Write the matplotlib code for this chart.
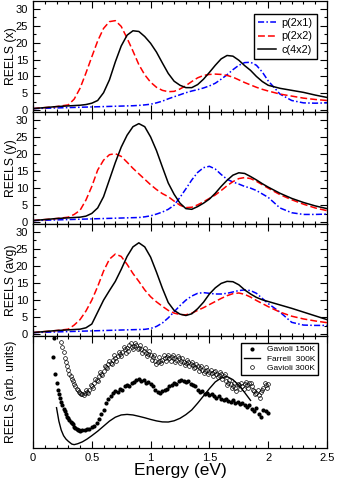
import numpy as np
import matplotlib
matplotlib.use("Agg")
import matplotlib.pyplot as plt
from matplotlib.ticker import MultipleLocator, NullLocator

plt.rcParams["font.family"] = ["Liberation Sans", "DejaVu Sans"]

# model spectra, shared energy grid (eV)
energy = [0.0, 0.1, 0.2, 0.3, 0.35, 0.4, 0.45, 0.5, 0.55, 0.6, 0.65, 0.7,
          0.75, 0.8, 0.85, 0.9, 0.95, 1.0, 1.05, 1.1, 1.15, 1.2, 1.25, 1.3,
          1.35, 1.4, 1.45, 1.5, 1.55, 1.6, 1.65, 1.7, 1.75, 1.8, 1.85, 1.9,
          1.95, 2.0, 2.1, 2.2, 2.3, 2.4, 2.5]

# REELS (x)
x_p2x1 = [0.5, 0.6, 0.7, 0.8, 0.85, 0.9, 0.95, 1.0, 1.05, 1.1, 1.15, 1.2,
          1.25, 1.3, 1.35, 1.45, 1.6, 1.8, 2.2, 2.7, 3.4, 4.0, 4.6, 5.2,
          5.7, 6.1, 6.6, 7.2, 8.0, 9.2, 10.5, 12.0, 13.3, 14.1, 14.2, 13.3,
          11.3, 8.7, 4.8, 2.9, 2.2, 2.1, 2.2]
x_p2x2 = [0.5, 0.8, 1.1, 1.6, 3.3, 6.5, 11.0, 15.8, 20.5, 24.2, 26.2, 26.5,
          24.8, 21.3, 17.5, 13.5, 10.5, 8.3, 6.8, 5.9, 5.5, 5.6, 6.3, 7.3,
          8.5, 9.6, 10.3, 10.6, 10.7, 10.6, 10.3, 9.8, 9.0, 8.2, 7.5, 6.8,
          6.2, 5.7, 4.8, 4.2, 3.6, 3.2, 2.9]
x_c4x2 = [0.5, 0.8, 1.1, 1.3, 1.4, 1.5, 1.7, 2.1, 2.9, 5.2, 9.0, 14.3,
          19.0, 22.2, 23.5, 23.3, 21.8, 19.8, 17.2, 14.0, 10.9, 8.6, 7.4, 6.7,
          6.7, 7.6, 9.2, 11.2, 13.3, 15.2, 16.2, 16.0, 14.8, 13.2, 11.8, 10.0,
          8.5, 7.4, 6.5, 5.9, 5.3, 4.5, 3.8]

# REELS (y)
y_p2x1 = [0.5, 0.6, 0.7, 0.8, 0.85, 0.9, 0.95, 1.0, 1.05, 1.1, 1.15, 1.2,
          1.25, 1.3, 1.35, 1.4, 1.6, 1.9, 2.4, 3.0, 3.8, 5.0, 7.3, 9.8,
          12.4, 14.6, 16.0, 16.4, 15.6, 14.0, 12.6, 11.8, 11.2, 10.5, 10.0, 9.3,
          8.3, 7.3, 4.2, 2.8, 2.3, 2.3, 2.4]
y_p2x2 = [0.5, 0.8, 1.1, 1.5, 2.3, 3.5, 6.5, 10.5, 15.3, 18.2, 19.8, 20.1,
          19.3, 17.6, 15.8, 14.2, 12.6, 11.0, 9.6, 8.4, 7.5, 6.2, 5.0, 4.3,
          4.4, 5.1, 6.0, 7.0, 8.0, 9.3, 10.7, 11.9, 12.8, 13.1, 12.8, 12.0,
          11.0, 10.0, 8.1, 6.6, 5.3, 4.2, 3.4]
y_c4x2 = [0.5, 0.8, 1.1, 1.3, 1.4, 1.5, 1.8, 2.6, 4.2, 7.5, 12.5, 17.5,
          22.0, 25.5, 28.0, 28.9, 28.0, 25.0, 21.0, 16.2, 11.5, 8.2, 5.6, 4.0,
          3.8, 4.6, 5.6, 6.8, 8.5, 10.5, 12.3, 13.8, 14.5, 14.3, 13.4, 12.4,
          11.3, 10.3, 8.5, 7.0, 5.8, 4.8, 4.0]

# REELS (avg)
a_p2x1 = [0.5, 0.6, 0.7, 0.8, 0.85, 0.9, 0.95, 1.0, 1.05, 1.1, 1.15, 1.2,
          1.25, 1.3, 1.35, 1.4, 1.45, 1.7, 2.3, 3.3, 4.8, 6.6, 8.4, 10.0,
          11.2, 12.0, 12.2, 12.0, 11.8, 11.8, 12.0, 12.4, 12.8, 13.0, 12.8, 12.0,
          10.5, 9.0, 6.5, 3.5, 2.7, 2.6, 2.6]
a_p2x2 = [0.5, 0.8, 1.1, 1.5, 2.7, 4.3, 6.8, 10.0, 14.0, 18.5, 22.0, 23.5,
          22.8, 20.5, 17.8, 15.5, 13.0, 11.0, 9.5, 8.2, 7.0, 6.2, 5.8, 5.7,
          6.2, 7.0, 7.8, 8.7, 9.6, 10.5, 11.3, 11.9, 12.1, 11.7, 10.9, 9.9,
          9.0, 8.1, 6.5, 5.3, 4.5, 3.9, 3.4]
a_c4x2 = [0.5, 0.8, 1.1, 1.3, 1.4, 1.5, 1.9, 3.0, 6.5, 10.0, 12.8, 15.5,
          19.0, 22.8, 25.6, 26.8, 25.6, 22.6, 18.2, 13.5, 9.3, 7.0, 5.9, 5.5,
          6.0, 7.5, 9.4, 11.8, 13.6, 14.9, 15.5, 15.4, 14.5, 13.0, 11.8, 10.8,
          10.1, 9.6, 8.6, 7.6, 6.5, 5.4, 4.3]

# experiment (arbitrary units, 0-100)
gav150_e = [0.17, 0.18, 0.19, 0.20, 0.21, 0.22, 0.23, 0.24, 0.25, 0.26, 0.27,
            0.28, 0.29, 0.30, 0.31, 0.32, 0.33, 0.34, 0.35, 0.36, 0.37, 0.38,
            0.39, 0.40, 0.42, 0.44, 0.46, 0.48, 0.50, 0.52, 0.54, 0.56, 0.58,
            0.60, 0.62, 0.64, 0.66, 0.68, 0.70, 0.72, 0.74, 0.76, 0.78, 0.80,
            0.82, 0.84, 0.86, 0.88, 0.90, 0.92, 0.94, 0.96, 0.98, 1.00, 1.02,
            1.04, 1.06, 1.08, 1.10, 1.12, 1.14, 1.16, 1.18, 1.20, 1.22, 1.24,
            1.26, 1.28, 1.30, 1.32, 1.34, 1.36, 1.38, 1.40, 1.42, 1.44, 1.46,
            1.48, 1.50, 1.52, 1.54, 1.56, 1.58, 1.60, 1.62, 1.64, 1.66, 1.68,
            1.70, 1.72, 1.74, 1.76, 1.78, 1.80, 1.82, 1.84, 1.86, 1.88, 1.90,
            1.92, 1.94, 1.96, 1.98, 2.00]
gav150_r = [81, 98, 66, 58, 52, 48, 45, 41, 38, 35, 33,
            30, 28, 27, 25, 23, 22, 21, 19, 18, 17, 16,
            16, 15, 16, 16, 17, 17, 19, 20, 22, 26, 30,
            34, 40, 44, 46, 49, 51, 50, 53, 52, 55, 56,
            55, 58, 59, 61, 62, 60, 61, 58, 59, 57, 55,
            52, 50, 49, 51, 52, 53, 55, 56, 58, 57, 60,
            61, 60, 59, 60, 57, 56, 55, 52, 50, 51, 48,
            49, 47, 48, 46, 45, 46, 44, 43, 44, 42, 41,
            43, 40, 41, 39, 40, 38, 37, 38, 35, 33, 36,
            30, 28, 34, 33, 31]

gav300_e = [0.24, 0.25, 0.26, 0.27, 0.28, 0.29, 0.30, 0.31, 0.32, 0.33, 0.34,
            0.35, 0.36, 0.37, 0.38, 0.39, 0.40, 0.41, 0.42, 0.43, 0.44, 0.46,
            0.48, 0.50, 0.52, 0.54, 0.56, 0.58, 0.60, 0.62, 0.64, 0.66, 0.68,
            0.70, 0.72, 0.74, 0.76, 0.78, 0.80, 0.82, 0.84, 0.86, 0.88, 0.90,
            0.92, 0.94, 0.96, 0.98, 1.00, 1.02, 1.04, 1.06, 1.08, 1.10, 1.12,
            1.14, 1.16, 1.18, 1.20, 1.22, 1.24, 1.26, 1.28, 1.30, 1.32, 1.34,
            1.36, 1.38, 1.40, 1.42, 1.44, 1.46, 1.48, 1.50, 1.52, 1.54, 1.56,
            1.58, 1.60, 1.62, 1.64, 1.66, 1.68, 1.70, 1.72, 1.74, 1.76, 1.78,
            1.80, 1.82, 1.84, 1.86, 1.88, 1.90, 1.92, 1.94, 1.96, 1.98, 2.00]
gav300_r = [95, 90, 86, 80, 77, 73, 70, 66, 64, 62, 60,
            57, 55, 53, 52, 50, 49, 48, 48, 47, 49, 50,
            52, 55, 58, 61, 64, 66, 69, 72, 75, 76, 79,
            80, 82, 84, 86, 88, 89, 92, 90, 91, 92, 89,
            88, 87, 85, 84, 83, 81, 78, 77, 78, 79, 80,
            81, 80, 81, 80, 79, 80, 78, 77, 76, 77, 75,
            74, 72, 73, 71, 70, 69, 70, 68, 67, 68, 66,
            65, 66, 64, 60, 58, 57, 55, 54, 57, 53, 55,
            57, 56, 58, 55, 51, 49, 47, 50, 54, 56, 57]
# second scan row of the 300K data (odd hundredths)
gav300b_e = [0.45, 0.47, 0.49, 0.51, 0.53, 0.55, 0.57, 0.59, 0.61, 0.63, 0.65,
             0.67, 0.69, 0.71, 0.73, 0.75, 0.77, 0.79, 0.81, 0.83, 0.85, 0.87,
             0.89, 0.91, 0.93, 0.95, 0.97, 0.99, 1.01, 1.03, 1.05, 1.07, 1.09,
             1.11, 1.13, 1.15, 1.17, 1.19, 1.21, 1.23, 1.25, 1.27, 1.29, 1.31,
             1.33, 1.35, 1.37, 1.39, 1.41, 1.43, 1.45, 1.47, 1.49, 1.51, 1.53,
             1.55, 1.57, 1.59, 1.61, 1.63, 1.65, 1.67, 1.69, 1.71, 1.73, 1.75,
             1.77, 1.79, 1.81, 1.83, 1.85, 1.87, 1.89, 1.91, 1.93, 1.95, 1.97,
             1.99]
gav300b_r = [52, 49, 56, 54, 62, 60, 68, 65, 73, 71, 78,
             75, 83, 78, 86, 82, 90, 85, 87, 94, 88, 94,
             88, 92, 85, 89, 82, 87, 79, 83, 75, 81, 76,
             83, 78, 83, 78, 83, 77, 82, 76, 80, 74, 79,
             73, 77, 71, 75, 69, 73, 67, 72, 66, 70, 64,
             69, 63, 68, 62, 66, 56, 61, 54, 58, 51, 56,
             58, 53, 59, 54, 58, 52, 48, 52, 45, 52, 58,
             54]

farrell_e = [0.20, 0.22, 0.24, 0.26, 0.28, 0.30, 0.33, 0.35, 0.38, 0.42, 0.46,
             0.50, 0.55, 0.60, 0.65, 0.70, 0.75, 0.80, 0.85, 0.90, 0.95, 1.00,
             1.05, 1.10, 1.15, 1.20, 1.25, 1.30, 1.35, 1.40, 1.45, 1.50, 1.55,
             1.60, 1.65, 1.70, 1.75, 1.80, 1.85]
farrell_r = [36, 24, 16, 11, 8, 6, 3.5, 3, 3.8, 5.5, 8,
             11, 15, 19.5, 24, 27.5, 29.5, 30, 29.5, 28.3, 27, 25.5,
             24.2, 23.3, 23.2, 24.3, 26.5, 29.8, 34, 40, 46.5, 53, 59,
             62.5, 63.8, 61, 56, 49.5, 42.5]

W, H = 338, 482
fig = plt.figure(figsize=(W / 100, H / 100), dpi=100)
left, width = 33 / W, 294 / W
edges = [1, 112, 224, 336, 448]
axes = []
for i in range(4):
    ax = fig.add_axes([left, 1 - edges[i + 1] / H, width, (edges[i + 1] - edges[i]) / H])
    axes.append(ax)

models = [
    ("REELS (x)", x_p2x1, x_p2x2, x_c4x2),
    ("REELS (y)", y_p2x1, y_p2x2, y_c4x2),
    ("REELS (avg)", a_p2x1, a_p2x2, a_c4x2),
]
lw = 1.1
for ax, (lab, b, r, k) in zip(axes[:3], models):
    ax.plot(energy, b, color="#0000ff", lw=lw, dashes=(4, 1.5, 1, 1.5), label="p(2x1)")
    ax.plot(energy, r, color="#ff0000", lw=lw, dashes=(4.5, 2), label="p(2x2)")
    ax.plot(energy, k, color="black", lw=lw, label="c(4x2)")
    ax.set_ylim(-0.5, 32.3)
    ax.yaxis.set_major_locator(MultipleLocator(5))
    ax.yaxis.set_minor_locator(MultipleLocator(2.5))
    ax.set_ylabel(lab, fontsize=8.8)
    ax.tick_params(labelbottom=False)

axes[0].legend(loc="upper right", fontsize=7.8, frameon=True, fancybox=False,
               edgecolor="black", framealpha=1, handlelength=1.7,
               handletextpad=0.5, borderpad=0.4, labelspacing=0.3,
               borderaxespad=0, bbox_to_anchor=(0.966, 0.885))

ax4 = axes[3]
ax4.plot(gav150_e, gav150_r, "o", color="black", ms=3.0, mew=0, label="Gavioli 150K")
ax4.plot(farrell_e, farrell_r, color="black", lw=1.0, label="Farrell  300K")
ax4.plot(gav300_e + gav300b_e, gav300_r + gav300b_r, "o", mfc="none",
         mec="black", ms=2.7, mew=0.5, label="Gavioli 300K")
ax4.set_ylim(0, 100)
ax4.yaxis.set_major_locator(NullLocator())
ax4.set_ylabel("REELS (arb. units)", fontsize=8.8)
ax4.set_xlabel("Energy (eV)", fontsize=12.5, labelpad=0)
ax4.legend(loc="upper right", fontsize=6.0, frameon=True, fancybox=False,
           edgecolor="black", framealpha=1, handlelength=2.0,
           handletextpad=0.8, borderpad=0.35, labelspacing=0.15,
           borderaxespad=0, bbox_to_anchor=(0.97, 0.94))

for ax in axes:
    ax.set_xlim(0, 2.5)
    ax.xaxis.set_major_locator(MultipleLocator(0.5))
    ax.xaxis.set_minor_locator(MultipleLocator(0.1))
    ax.tick_params(which="both", direction="in", top=True, right=True,
                   labelsize=8, width=0.8)
    ax.tick_params(which="major", length=5)
    ax.tick_params(which="minor", length=2.5)
    ax.yaxis.set_label_coords(-0.055, 0.5)
    for s in ax.spines.values():
        s.set_linewidth(0.9)

ax4.xaxis.set_major_formatter(plt.FuncFormatter(lambda v, p: f"{v:g}"))

fig.savefig("out.png", dpi=100)
